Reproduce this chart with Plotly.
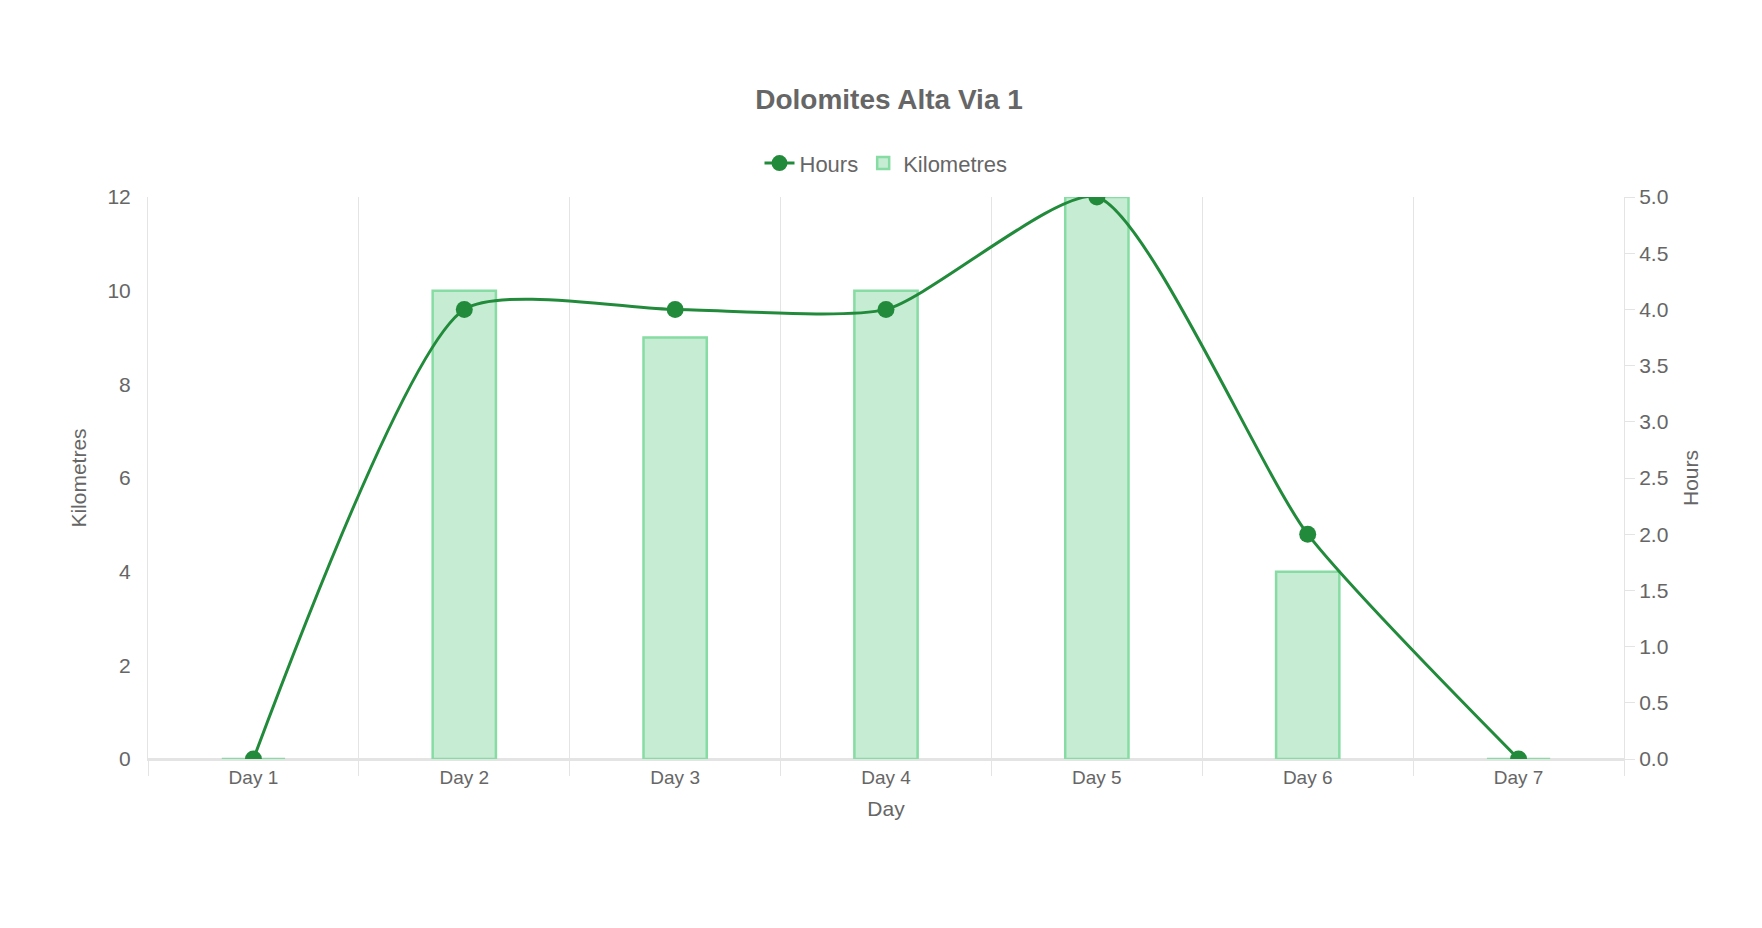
import plotly.graph_objects as go

days = ["Day 1", "Day 2", "Day 3", "Day 4", "Day 5", "Day 6", "Day 7"]
hours = [0, 4, 4, 4, 5, 2, 0]
kilometres = [0, 10, 9, 10, 12, 4, 0]

fig = go.Figure()
fig.add_trace(go.Scatter(x=days, y=hours, name="Hours", yaxis="y2", mode="lines+markers",
                         line=dict(color="#228b3b", width=3, shape="spline", smoothing=0.6),
                         marker=dict(size=17, color="#228b3b")))
fig.add_trace(go.Bar(x=days, y=kilometres, name="Kilometres", width=0.3,
                     marker=dict(color="#c6edd3", line=dict(color="#86dca2", width=2.5))))

font = "Helvetica, Liberation Sans, Arial, sans-serif"
fig.update_layout(
    width=1762, height=928, paper_bgcolor="white", plot_bgcolor="white",
    font=dict(family=font, color="#666", size=19),
    title=dict(text="<b>Dolomites Alta Via 1</b>", x=0.5, xanchor="center", y=0.902, yanchor="middle",
               font=dict(size=28, color="#666")),
    margin=dict(l=140, r=146, t=189, b=177),
    legend=dict(orientation="h", x=0.5, xanchor="center", y=1.06, yanchor="middle",
                font=dict(size=22, color="#666"), traceorder="normal"),
    bargap=0.7,
    xaxis=dict(title=dict(text="Day", font=dict(size=21)), tickson="boundaries", showgrid=True,
               gridcolor="#e4e4e4", ticks="outside", ticklen=15, tickcolor="#e4e4e4",
               showline=True, linecolor="#e4e4e4", linewidth=1.5, tickfont=dict(size=19)),
    yaxis=dict(title=dict(text="Kilometres", font=dict(size=21)), range=[0, 12], dtick=2,
               showgrid=False, showline=True, linecolor="#e4e4e4", ticks="outside",
               ticklen=12, tickcolor="white", zeroline=True, zerolinecolor="#e4e4e4",
               tickfont=dict(size=21)),
    yaxis2=dict(title=dict(text="Hours", font=dict(size=21)), overlaying="y", side="right",
                range=[0, 5], dtick=0.5, showgrid=False, showline=True, linecolor="#e4e4e4",
                ticks="outside", ticklen=10, tickcolor="#e4e4e4", tickformat=".1f",
                tickfont=dict(size=21), zeroline=False),
)
fig.update_yaxes(title_standoff=15)
fig.write_html("out.html")
